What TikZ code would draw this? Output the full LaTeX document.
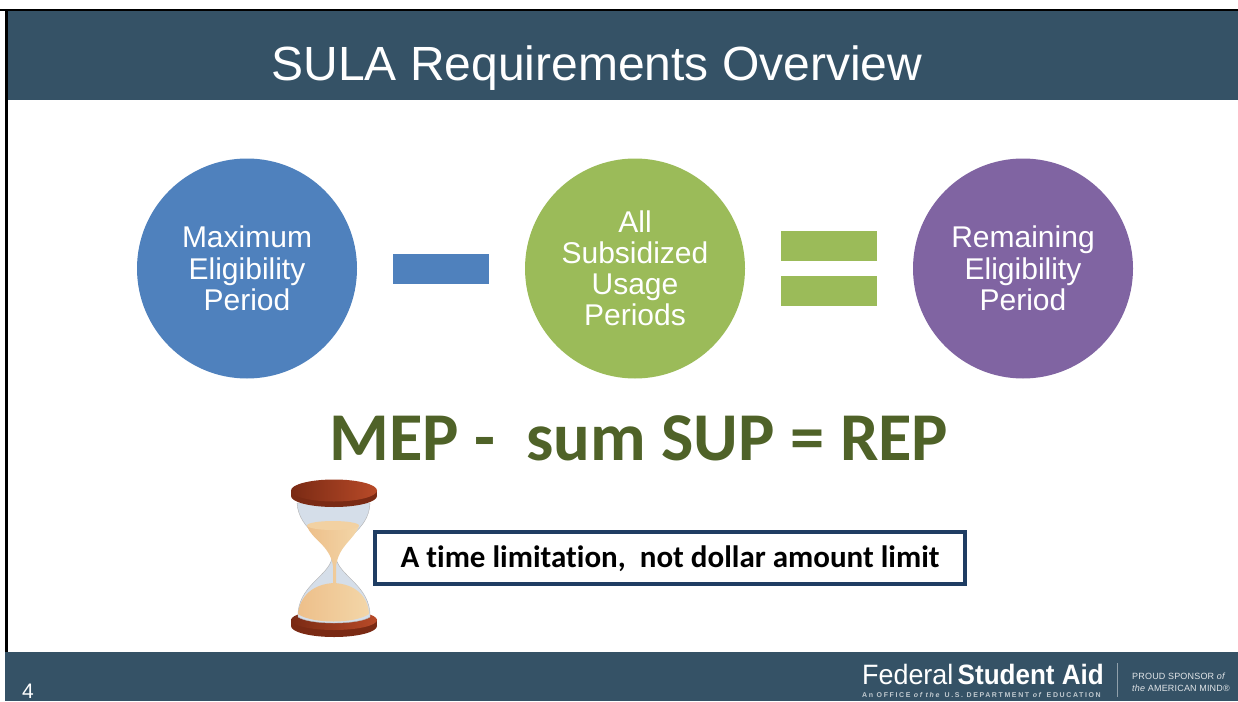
\documentclass[tikz,border=0pt]{standalone}
\usepackage{fontspec}
\setmainfont{Liberation Sans}
\newfontfamily\cali[Ligatures=NoCommon]{Carlito}
\definecolor{band}{HTML}{355266}
\definecolor{cblue}{HTML}{4F81BD}
\definecolor{cgreen}{HTML}{9BBB59}
\definecolor{cpurple}{HTML}{8064A2}
\definecolor{dgreen}{HTML}{4F6228}
\definecolor{boxblue}{HTML}{1F3D63}
\definecolor{rimD}{HTML}{7A2A14}
\definecolor{rimL}{HTML}{B84A28}
\definecolor{sandA}{HTML}{EDBF8A}
\definecolor{sandB}{HTML}{F3D6A8}
\definecolor{glass}{HTML}{D5DEE9}
\tikzset{
 circ/.style={circle,minimum size=220pt,inner sep=0pt,text=white,font=\fontsize{30}{31}\selectfont,align=center},
 bar/.style={inner sep=0pt,minimum height=30pt,minimum width=96pt},
 logotext/.style={text=white,inner sep=0pt},
}
\begin{document}
\begin{tikzpicture}[x=1pt,y=-1pt]
\useasboundingbox (0,0) rectangle (1238,701);
\fill[white] (0,0) rectangle (1238,701);
\fill[black] (0,9) rectangle (1238,11);
\fill[black] (5,9) rectangle (8,652);
\fill[band] (8,11) rectangle (1238,100);
\fill[band] (5,652) rectangle (1238,701);
\node[text=white,font=\fontsize{48}{50}\selectfont] (title) at (597,68) {SULA Requirements Overview};

\node[circ,fill=cblue] (mep) at (247,268.5) {\raisebox{1pt}{Maximum}\\Eligibility\\Period};
\node[circ,fill=cgreen] (sup) at (635,268.5) {All\\Subsidized\\Usage\\Periods};
\node[circ,fill=cpurple] (rep) at (1023,268.5) {\raisebox{1pt}{Remaining}\\Eligibility\\Period};
\node[bar,fill=cblue] (minus) at (441,268.5) {};
\node[bar,fill=cgreen] (eq1) at (829,246) {};
\node[bar,fill=cgreen] (eq2) at (829,291) {};

\node[text=dgreen,font=\cali\bfseries\fontsize{68.4}{70}\selectfont] (formula) at (639,438) {MEP -\ \ sum SUP = REP};

% hourglass: bottom rim
\fill[rimD] (334,626) ellipse[x radius=43,y radius=11];
\fill[rimD] (291,619) rectangle (377,626);
\shade[left color=rimD,right color=rimL] (334,620) ellipse[x radius=43,y radius=10];
% glass
\fill[glass,draw=gray!60,line width=.4pt] (297,503) .. controls (299,532) and (329,538) .. (332,558) .. controls (329,576) and (297,586) .. (298,617) .. controls (310,625) and (358,625) .. (370,617) .. controls (371,586) and (339,576) .. (336,558) .. controls (339,538) and (369,532) .. (370,503) -- cycle;
% sand
\shade[left color=sandA,right color=sandB] (307,526) .. controls (312,540) and (330,545) .. (333,566) -- (333,590) -- (336,590) -- (336,566) .. controls (339,545) and (354,540) .. (359,526) -- cycle;
\fill[sandB!80!sandA] (333,525.5) ellipse[x radius=26,y radius=4.5];
\shade[left color=sandA,right color=sandB] (298,614) .. controls (300,595) and (314,584) .. (334,583) .. controls (354,584) and (368,595) .. (369,614) .. controls (355,624) and (312,624) .. (298,614) -- cycle;
% top rim
\fill[rimD] (334,496) ellipse[x radius=43,y radius=11];
\fill[rimD] (291,490) rectangle (377,496);
\shade[left color=rimD,right color=rimL] (334,490.5) ellipse[x radius=43,y radius=11];

\node[draw=boxblue,line width=3.5pt,fill=white,minimum width=590pt,minimum height=52pt,inner sep=0pt,font=\cali\bfseries\fontsize{31}{33}\selectfont] (note) at (670,558) {\raisebox{-2pt}[22pt][7pt]{A time limitation,\ \ not dollar amount limit}};

\node[text=white,font=\fontsize{21}{23}\selectfont,inner sep=0pt] (pagenum) at (28,691) {4};
\node[logotext,anchor=base west,font=\fontsize{28}{30}\selectfont,xscale=.96,transform shape] (fed) at (862,684) {Federal};
\node[logotext,anchor=base east,font=\bfseries\fontsize{28}{30}\selectfont,xscale=.93,transform shape] (sa) at (1104,684) {Student Aid};
\node[logotext,anchor=base west,font=\bfseries\fontsize{7}{8}\selectfont,text=white!70!band] (office) at (862,697) {\addfontfeature{LetterSpace=23}An OFFICE \textit{of the} U.S. DEPARTMENT \textit{of} EDUCATION};
\fill[white!45!band] (1116.5,663) rectangle (1117.5,697);
\node[logotext,anchor=base west,font=\fontsize{9}{10}\selectfont,text=white!85!band] (proud) at (1132,679) {\addfontfeature{LetterSpace=2}PROUD SPONSOR \textit{of}};
\node[logotext,anchor=base west,font=\fontsize{9}{10}\selectfont,text=white!85!band] (mind) at (1132,691) {\addfontfeature{LetterSpace=2}\textit{the} AMERICAN MIND®};
\end{tikzpicture}
\end{document}
